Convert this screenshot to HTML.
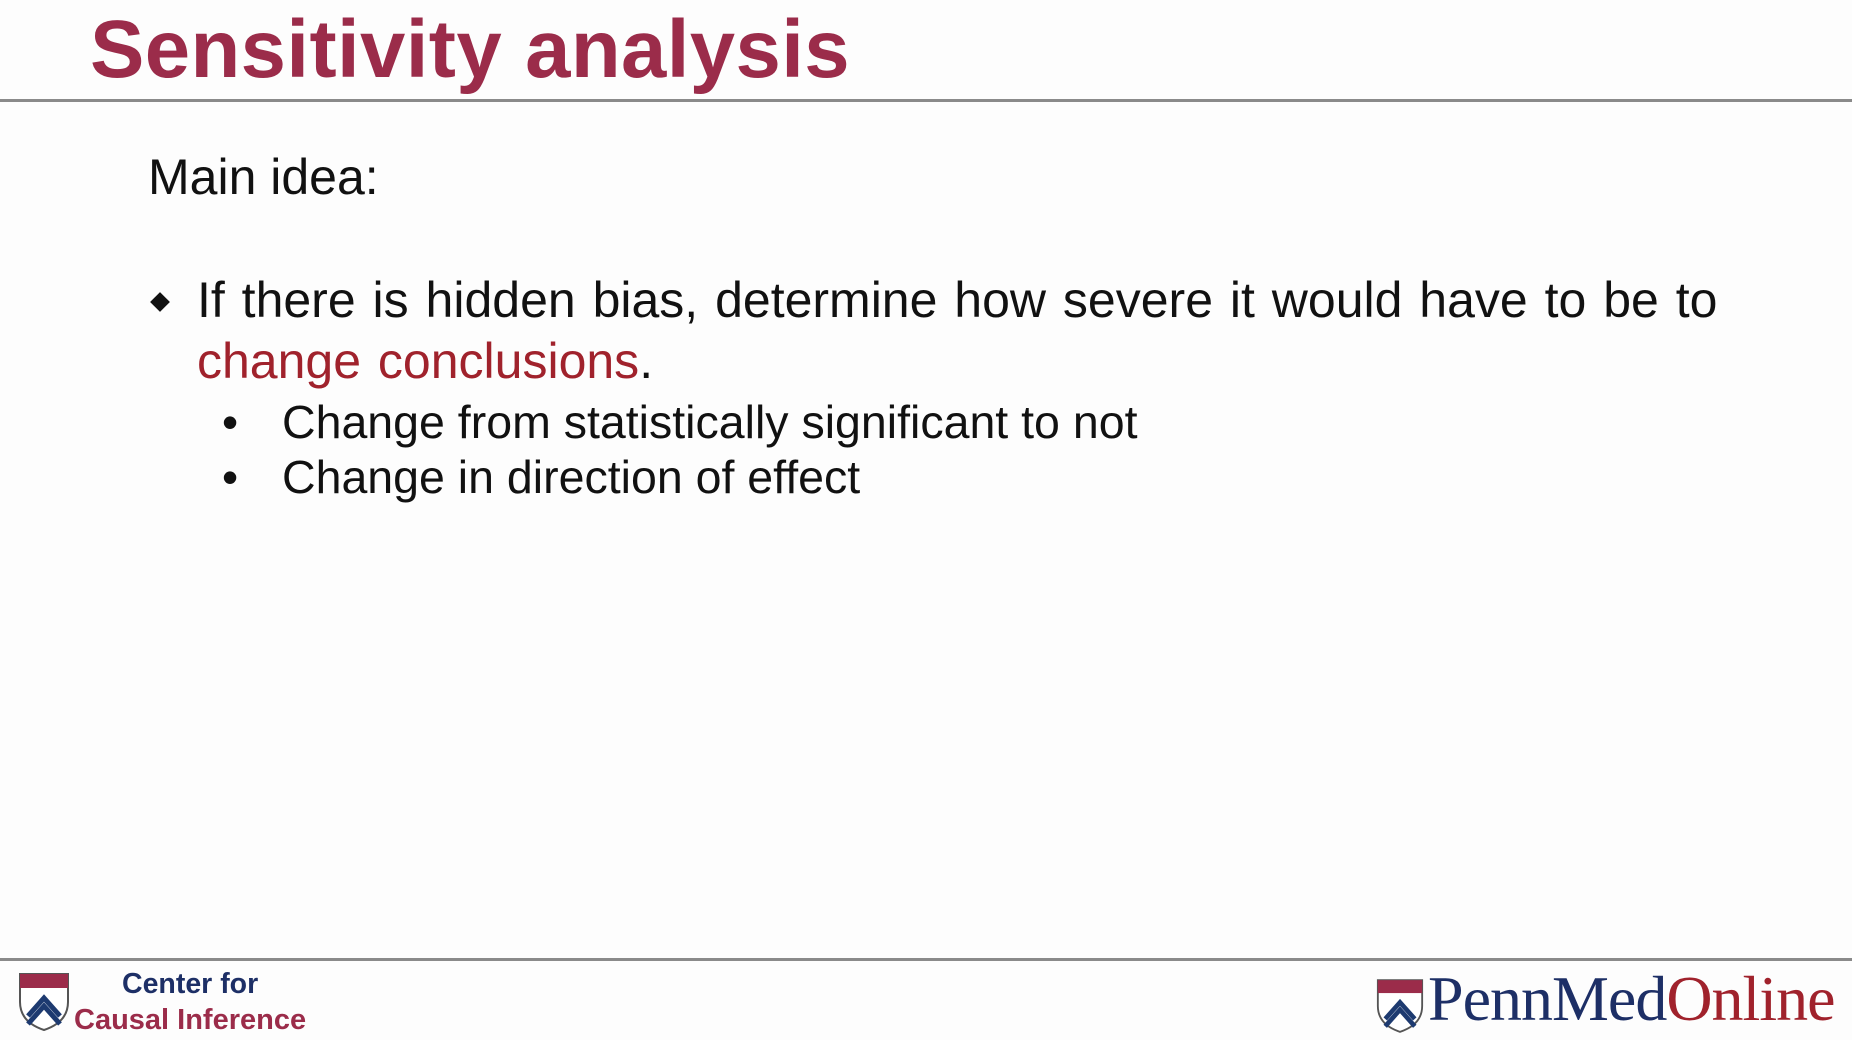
<!DOCTYPE html>
<html><head><meta charset="utf-8"><style>
html,body{margin:0;padding:0;width:1852px;height:1040px;overflow:hidden;background:#fdfdfd;font-family:"Liberation Sans",sans-serif}
.a{position:absolute;white-space:nowrap}
</style></head><body>
<div class="a" style="left:90px;top:3px;font-size:81.5px;font-weight:bold;color:#9b2c4a;letter-spacing:0.4px">Sensitivity analysis</div>
<div class="a" style="left:0;top:99px;width:1852px;height:3px;background:#8a8a8a"></div>
<div class="a" style="left:148px;top:148px;font-size:50px;color:#111">Main idea:</div>
<div class="a" style="left:153px;top:295px;width:14px;height:14px;background:#111;transform:rotate(45deg)"></div>
<div class="a" style="left:197px;top:270px;font-size:50px;color:#111;line-height:61px;word-spacing:3px">If there is hidden bias, determine how severe it would have to be to<br><span style="color:#a0222c">change conclusions</span>.</div>
<div class="a" style="left:222px;top:395px;font-size:46px;color:#111;line-height:55px">•</div>
<div class="a" style="left:282px;top:395px;font-size:46.5px;color:#111;line-height:55px">Change from statistically significant to not</div>
<div class="a" style="left:222px;top:450px;font-size:46px;color:#111;line-height:55px">•</div>
<div class="a" style="left:282px;top:450px;font-size:46.5px;color:#111;line-height:55px">Change in direction of effect</div>
<div class="a" style="left:0;top:958px;width:1852px;height:3px;background:#8a8a8a"></div>
<svg class="a" style="left:18px;top:972px" width="52" height="60" viewBox="0 0 52 60"><path d="M2 2H50V30C50 46 38 54 26 58C14 54 2 46 2 30Z" fill="#fff" stroke="#555" stroke-width="2"/><rect x="2" y="2" width="48" height="14" fill="#9b2c4a"/><path d="M10 44L26 26L42 44M10 52L26 34L42 52" stroke="#1d3a70" stroke-width="5" fill="none"/></svg>
<div class="a" style="left:122px;top:968px;font-size:28.5px;font-weight:bold;color:#1d2f66">Center for</div>
<div class="a" style="left:74px;top:1004px;font-size:29px;font-weight:bold;color:#9b2c4a">Causal Inference</div>
<svg class="a" style="left:1376px;top:978px" width="48" height="56" viewBox="0 0 52 60"><path d="M2 2H50V30C50 46 38 54 26 58C14 54 2 46 2 30Z" fill="#fff" stroke="#555" stroke-width="2"/><rect x="2" y="2" width="48" height="14" fill="#9b2c4a"/><path d="M10 44L26 26L42 44M10 52L26 34L42 52" stroke="#1d3a70" stroke-width="5" fill="none"/></svg>
<div class="a" style="left:1428px;top:962px;font-family:'Liberation Serif',serif;font-size:64px;letter-spacing:-1px;color:#1d2f66">PennMed<span style="color:#a0222c">Online</span></div>
</body></html>
